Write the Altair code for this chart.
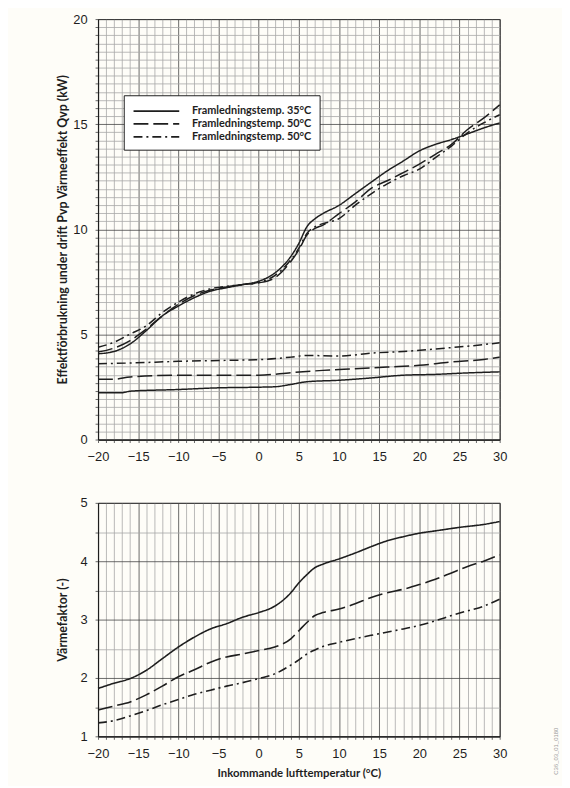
import altair as alt
import pandas as pd

# ---------------- data ----------------
# Top panel: heating capacity Qvp (kW) vs incoming air temperature
q35_x = [-20, -18, -16, -14, -12, -10, -8, -6, -4, -2, 0, 2, 4, 5, 6, 7, 8, 10, 12, 14, 16, 18, 20, 22, 24, 26, 28, 30]
q35_y = [4.08, 4.19, 4.55, 5.18, 5.88, 6.35, 6.75, 7.06, 7.22, 7.37, 7.53, 7.92, 8.71, 9.33, 10.12, 10.5, 10.75, 11.14, 11.69, 12.24, 12.78, 13.25, 13.73, 14.04, 14.27, 14.54, 14.82, 15.06]
q50_x = [-20, -18, -16, -14, -12, -10, -8, -6, -4, -2, 0, 2, 4, 5, 6, 7, 8, 10, 12, 14, 16, 18, 20, 22, 24, 26, 28, 30]
q50_y = [4.16, 4.35, 4.71, 5.25, 5.88, 6.43, 6.85, 7.11, 7.26, 7.37, 7.45, 7.69, 8.47, 9.02, 9.73, 10.04, 10.2, 10.75, 11.29, 11.95, 12.31, 12.7, 13.1, 13.57, 14.04, 14.75, 15.29, 15.92]
q50b_x = [-20, -18, -16, -14, -12, -10, -8, -6, -4, -2, 0, 2, 4, 5, 6, 7, 8, 10, 12, 14, 16, 18, 20, 22, 24, 26, 28, 30]
q50b_y = [4.39, 4.63, 5.02, 5.41, 6.04, 6.54, 6.93, 7.17, 7.29, 7.37, 7.48, 7.8, 8.55, 9.1, 9.8, 10.12, 10.27, 10.51, 11.14, 11.69, 12.16, 12.55, 12.86, 13.41, 13.96, 14.59, 15.06, 15.45]

# Top panel: power consumption Pvp (kW)
p35_x = [-20, -17, -16, -10, -5, 0, 2, 4, 6, 10, 14, 18, 22, 26, 30]
p35_y = [2.23, 2.23, 2.3, 2.38, 2.46, 2.49, 2.51, 2.62, 2.75, 2.82, 2.93, 3.06, 3.1, 3.17, 3.22]
p50_x = [-20, -18, -16, -10, 0, 4, 8, 12, 16, 20, 24, 28, 30]
p50_y = [2.87, 2.87, 2.98, 3.06, 3.06, 3.18, 3.29, 3.37, 3.45, 3.53, 3.69, 3.81, 3.92]
p50b_x = [-20, -16, -10, -5, 0, 4, 6, 10, 14, 18, 22, 26, 30]
p50b_y = [3.61, 3.64, 3.72, 3.76, 3.8, 3.92, 4.0, 3.97, 4.11, 4.19, 4.31, 4.44, 4.6]

# Bottom panel: COP (Värmefaktor)
c35_x = [-20, -18, -16, -14, -12, -10, -8, -6, -4, -2, 0, 2, 4, 5, 6, 7, 8, 10, 12, 14, 16, 18, 20, 22, 25, 28, 30]
c35_y = [1.82, 1.91, 1.99, 2.13, 2.33, 2.53, 2.70, 2.84, 2.93, 3.04, 3.12, 3.23, 3.46, 3.63, 3.77, 3.89, 3.95, 4.04, 4.14, 4.25, 4.35, 4.42, 4.48, 4.52, 4.58, 4.63, 4.68]
c50_x = [-20, -18, -16, -14, -12, -10, -8, -6, -4, -2, 0, 2, 4, 5, 6, 7, 8, 10, 12, 14, 16, 18, 20, 22, 24, 26, 28, 30]
c50_y = [1.45, 1.52, 1.59, 1.71, 1.86, 2.02, 2.14, 2.27, 2.36, 2.41, 2.47, 2.53, 2.67, 2.81, 2.95, 3.07, 3.12, 3.18, 3.27, 3.38, 3.46, 3.52, 3.6, 3.69, 3.8, 3.91, 4.0, 4.11]
c50b_x = [-20, -18, -16, -14, -12, -10, -8, -6, -4, -2, 0, 2, 4, 5, 6, 7, 8, 10, 14, 18, 20, 22, 24, 26, 28, 30]
c50b_y = [1.23, 1.27, 1.35, 1.44, 1.54, 1.63, 1.72, 1.79, 1.86, 1.92, 1.99, 2.07, 2.22, 2.31, 2.41, 2.48, 2.54, 2.61, 2.73, 2.84, 2.9, 2.98, 3.07, 3.15, 3.23, 3.35]

series_keys = ["35", "50a", "50b"]
legend_labels = ["Framledningstemp. 35°C", "Framledningstemp. 50°C", "Framledningstemp. 50°C"]
dash_styles = [[1, 0], [15, 5], [9, 4, 2, 4]]

x_ticks = list(range(-20, 31))
top_y_grid = [round(5 * k / 13, 4) for k in range(0, 53)]
bot_y_grid = [1 + 0.5 * k for k in range(0, 9)]


def frame(pairs):
    rows = []
    for key, grp, xs, ys in pairs:
        for xv, yv in zip(xs, ys):
            rows.append({"t": xv, "v": yv, "s": key, "g": grp})
    return pd.DataFrame(rows)


top_df = frame([
    ("35", "Q", q35_x, q35_y), ("50a", "Q", q50_x, q50_y), ("50b", "Q", q50b_x, q50b_y),
    ("35", "P", p35_x, p35_y), ("50a", "P", p50_x, p50_y), ("50b", "P", p50b_x, p50b_y),
])
bot_df = frame([("35", "C", c35_x, c35_y), ("50a", "C", c50_x, c50_y), ("50b", "C", c50b_x, c50b_y)])

label_expr = "datum.value == '%s' ? '%s' : '%s'" % (series_keys[0], legend_labels[0], legend_labels[1])

NUM_FONT = "Liberation Sans"
TXT_FONT = "Lato"
INK = "#1e1e1e"

major_x = alt.condition("abs(datum.value % 5) < 0.001", alt.value("#444444"), alt.value("#a8a8a8"))
major_yt = alt.condition("abs(datum.value % 5) < 0.001", alt.value("#444444"), alt.value("#a8a8a8"))
major_yb = alt.condition("abs(datum.value % 1) < 0.001", alt.value("#444444"), alt.value("#a8a8a8"))

common_axis = dict(
    labelFont=NUM_FONT, labelFontSize=13, labelColor=INK, labelFlush=False,
    domainColor=INK, domainWidth=1.2, tickColor="#666", tickSize=3,
    labelPadding=8, gridWidth=0.8,
    titleFont=TXT_FONT, titleFontWeight="bold", titleColor=INK,
)

top = alt.Chart(top_df).mark_line(interpolate="monotone", strokeWidth=1.5, color=INK).encode(
    x=alt.X("t:Q", scale=alt.Scale(domain=[-20, 30], nice=False),
            axis=alt.Axis(values=x_ticks, title=None, gridColor=major_x,
                          labelExpr="datum.value % 5 == 0 ? datum.label : ''", **common_axis)),
    y=alt.Y("v:Q", scale=alt.Scale(domain=[0, 20], nice=False),
            axis=alt.Axis(values=top_y_grid, gridColor=major_yt,
                          labelExpr="abs(datum.value % 5) < 0.001 ? format(datum.value, 'd') : ''",
                          title="Effektförbrukning under drift Pvp Värmeeffekt Qvp (kW)",
                          titleFontSize=12.5,
                          titleX=-36, titleY=212.5, titleBaseline="middle", titleAngle=270,
                          **common_axis)),
    strokeDash=alt.StrokeDash("s:N", scale=alt.Scale(domain=series_keys, range=dash_styles),
                              legend=alt.Legend(orient="none", legendX=26, legendY=77, title=None,
                                                fillColor="white", strokeColor=INK, padding=8,
                                                symbolType="M-3.3,0L3.3,0", symbolSize=196,
                                                symbolOffset=17,
                                                symbolStrokeWidth=1.8, symbolStrokeColor=INK,
                                                labelFont=TXT_FONT, labelFontWeight="bold",
                                                labelFontSize=11, labelColor=INK, rowPadding=0,
                                                labelOffset=28, labelExpr=label_expr)),
    detail="g:N",
).properties(width=406, height=425)

bottom_lines = alt.Chart(bot_df).mark_line(interpolate="monotone", strokeWidth=1.6, color=INK).encode(
    x=alt.X("t:Q", scale=alt.Scale(domain=[-20, 30], nice=False),
            axis=alt.Axis(values=x_ticks, gridColor=major_x,
                          labelExpr="datum.value % 5 == 0 ? datum.label : ''",
                          title="Inkommande lufttemperatur (°C)", titleFontSize=11.5,
                          titleY=38, titleBaseline="middle",
                          **common_axis)),
    y=alt.Y("v:Q", scale=alt.Scale(domain=[1, 5], nice=False),
            axis=alt.Axis(values=bot_y_grid, gridColor=major_yb,
                          labelExpr="abs(datum.value % 1) < 0.001 ? format(datum.value, 'd') : ''",
                          title="Värmefaktor (-)", titleFontSize=12.5,
                          titleX=-36, titleY=118, titleBaseline="middle",
                          titleAngle=270, **common_axis)),
    strokeDash=alt.StrokeDash("s:N", scale=alt.Scale(domain=series_keys, range=dash_styles), legend=None),
)

code_df = pd.DataFrame({"txt": ["C36_03_01_0180"]})
code_text = alt.Chart(code_df).mark_text(angle=270, fontSize=6, color="#9a9a9a", font=NUM_FONT).encode(
    x=alt.value(463), y=alt.value(251), text="txt:N"
)

bottom = alt.layer(bottom_lines, code_text).properties(width=406, height=236)

chart = alt.vconcat(top, bottom, spacing=32).resolve_scale(strokeDash="independent").properties(
    padding={"left": 48, "top": 0, "right": 2, "bottom": 2},
    background="#fefdf8",
).configure_view(stroke=INK, strokeWidth=1)

chart.save("out.html", embed_options={"renderer": "svg", "actions": False})
